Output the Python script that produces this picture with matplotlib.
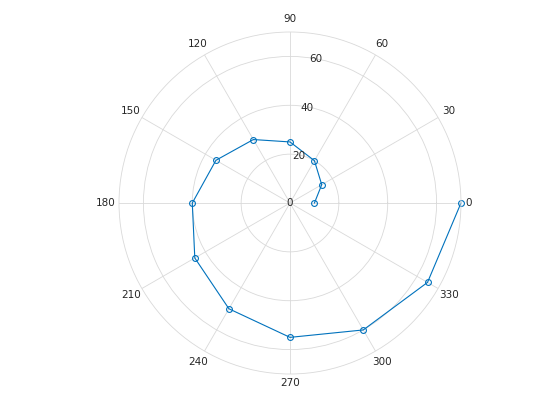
import numpy as np
import matplotlib
matplotlib.use("Agg")
import matplotlib.pyplot as plt

theta_deg = [0, 30, 60, 90, 120, 150, 180, 210, 240, 270, 300, 330, 360]
rho = [10, 15, 20, 25, 30, 35, 40, 45, 50, 55, 60, 65, 70]
angle_labels = [0, 30, 60, 90, 120, 150, 180, 210, 240, 270, 300, 330]
r_ticks = [20, 40, 60]
r_max = 70

fig = plt.figure(figsize=(5.6, 4.2), dpi=100)
ax = fig.add_axes([0.2125, 0.1095, 0.6107, 0.8143], projection='polar')

gridc = '#d9d9d9'
txtc = '#262626'
ax.set_rlim(0, r_max)
ax.set_rticks(r_ticks)
ax.set_yticklabels([])
ax.set_thetagrids(angle_labels, labels=[''] * len(angle_labels))
ax.grid(True, color=gridc, linewidth=0.6, linestyle='-')
ax.spines['polar'].set_color(gridc)
ax.spines['polar'].set_linewidth(0.6)
ax.tick_params(length=0)

for a in angle_labels:
    f = 1.045 if a == 0 else (1.055 if a == 270 else 1.075)
    ax.text(np.deg2rad(a), r_max * f, str(a), ha='center', va='center',
            fontsize=7.5, color=txtc)
for r in r_ticks:
    ax.text(np.deg2rad(80), r - 0.3, str(r), ha='center', va='center',
            fontsize=7.5, color=txtc)
ax.text(0, 0, '0', ha='center', va='center', fontsize=7.5, color=txtc)

ax.plot(np.deg2rad(theta_deg), rho, '-o', color=(0, 0.447, 0.741),
        linewidth=0.8, markersize=4.2, markerfacecolor='none',
        markeredgewidth=0.8, clip_on=False)

fig.savefig('out.png', dpi=100)
